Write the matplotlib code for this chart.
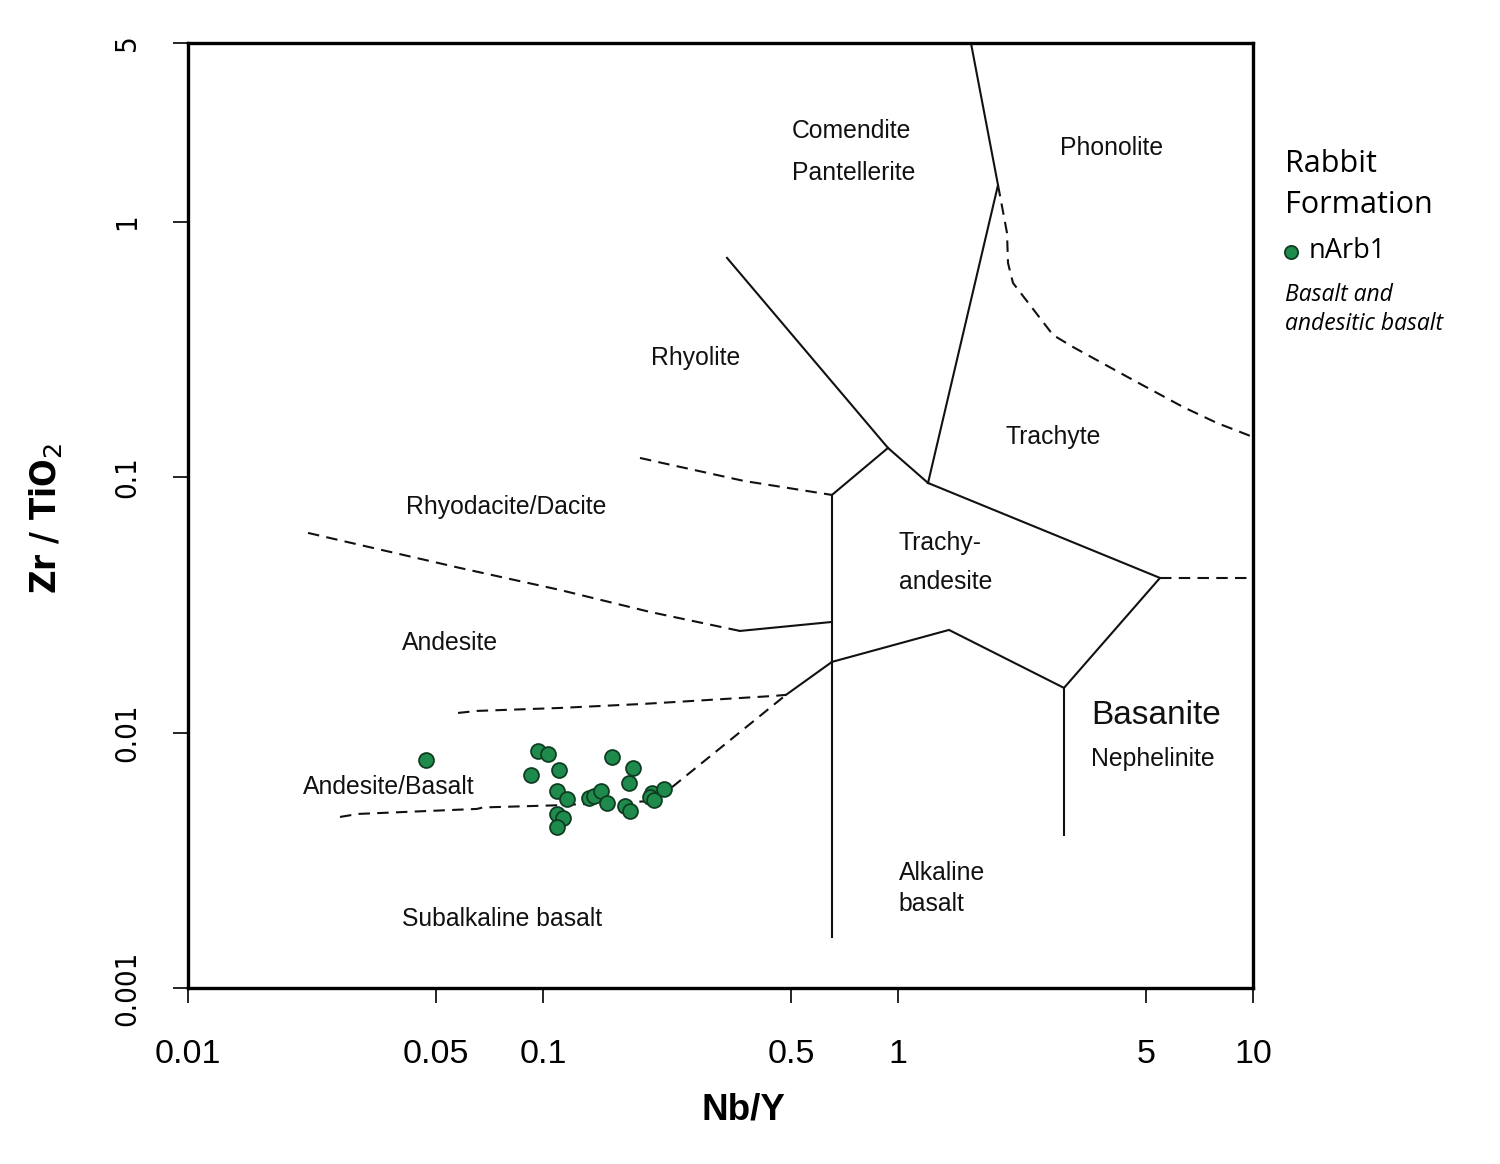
import matplotlib
matplotlib.use("Agg")
import matplotlib.pyplot as plt

plt.rcParams['font.family'] = ['Liberation Sans', 'DejaVu Sans']
plt.rcParams['mathtext.fontset'] = 'custom'
plt.rcParams['mathtext.rm'] = 'DejaVu Sans'
plt.rcParams['mathtext.bf'] = 'DejaVu Sans:bold'

# sample data, Nb/Y vs Zr/TiO2
nb_y = [0.0468, 0.0968, 0.1033, 0.0925, 0.1110, 0.1565, 0.1793, 0.1747,
        0.1095, 0.1169, 0.1348, 0.1392, 0.1457, 0.1515, 0.1702, 0.1758,
        0.2028, 0.2001, 0.2055, 0.2192, 0.1095, 0.1138, 0.1095]
zr_ti = [0.00781, 0.00847, 0.00825, 0.00682, 0.00714, 0.00802, 0.00727, 0.00635,
         0.00591, 0.00550, 0.00555, 0.00565, 0.00591, 0.00530, 0.00516, 0.00493,
         0.00580, 0.00560, 0.00545, 0.00601, 0.00480, 0.00463, 0.00427]

# field boundaries (Winchester & Floyd 1977)
solid_lines = [
    ([1.605, 1.913, 1.215], [5.0, 1.390, 0.0948]),
    ([0.3299, 0.9371, 1.215], [0.7206, 0.1300, 0.0948]),
    ([0.9371, 0.6516], [0.1300, 0.0851]),
    ([0.6516, 0.6516], [0.0851, 0.001585]),
    ([1.215, 5.470, 2.935, 2.935], [0.0948, 0.04028, 0.01495, 0.003974]),
    ([0.6516, 1.392, 2.935], [0.01890, 0.02521, 0.01495]),
    ([0.3588, 0.6516], [0.02498, 0.02709]),
    ([0.4836, 0.6516], [0.01404, 0.01890]),
]
dashed_lines = [
    ([1.913, 2.028, 2.041, 2.108, 2.733, 3.111, 4.592, 6.351, 7.917, 10.0],
     [1.390, 0.9024, 0.6886, 0.5751, 0.3598, 0.3229, 0.2399, 0.1881, 0.1628, 0.1435]),
    ([0.1876, 0.2163, 0.3684, 0.6516], [0.1188, 0.1136, 0.09654, 0.0851]),
    ([0.02178, 0.03051, 0.05839, 0.1117, 0.2001, 0.3588],
     [0.06044, 0.05423, 0.04406, 0.03614, 0.02965, 0.02498]),
    ([0.05763, 0.06518, 0.1117, 0.1913, 0.2385, 0.4445, 0.4836],
     [0.01193, 0.01215, 0.01248, 0.01294, 0.01318, 0.01390, 0.01404]),
    ([0.02680, 0.03013, 0.06518, 0.06776, 0.1067, 0.2068, 0.4836],
     [0.004672, 0.004801, 0.005023, 0.005091, 0.005184, 0.005398, 0.01404]),
    ([5.470, 10.0], [0.04028, 0.04028]),
]

field_names = ["Comendite", "Pantellerite", "Phonolite", "Rhyolite", "Trachyte",
               "Rhyodacite/Dacite", "Trachy-", "andesite", "Andesite", "Nephelinite",
               "Andesite/Basalt", "Alkaline", "basalt", "Subalkaline basalt"]
field_x = [0.5029, 0.5029, 2.860, 0.2014, 2.002, 0.04112, 1.006, 1.006, 0.04006,
           3.497, 0.02108, 1.006, 1.006, 0.04006]
field_y = [2.263, 1.550, 1.941, 0.2924, 0.1435, 0.07638, 0.05521, 0.03885, 0.02242,
           0.007882, 0.006125, 0.002821, 0.002134, 0.001865]

xticks = [0.01, 0.05, 0.1, 0.5, 1, 5, 10]
xtick_labels = ["0.01", "0.05", "0.1", "0.5", "1", "5", "10"]
yticks = [0.001, 0.01, 0.1, 1, 5]
ytick_labels = ["0.001", "0.01", "0.1", "1", "5"]

fig = plt.figure(figsize=(15, 11.64), dpi=100)
ax = fig.add_axes([188 / 1500, 1 - 988 / 1164, 1065 / 1500, 945 / 1164])
ax.set_xscale('log')
ax.set_yscale('log')
ax.set_xlim(0.01, 10)
ax.set_ylim(0.001, 5)

for xs, ys in solid_lines:
    ax.plot(xs, ys, color='#111111', lw=1.5, solid_joinstyle='miter')
for xs, ys in dashed_lines:
    ax.plot(xs, ys, color='#111111', lw=1.5, linestyle=(0, (5.5, 3.5)))

for name, x, y in zip(field_names, field_x, field_y):
    ax.text(x, y, name, fontsize=17.8, ha='left', va='center', color='#111111')
ax.text(3.497, 0.01161, "Basanite", fontsize=24, ha='left', va='center', color='#111111')

ax.scatter(nb_y, zr_ti, s=115, facecolor='#1e8b4c', edgecolor='#0e3d21',
           linewidth=1.3, zorder=5)

ax.set_xticks(xticks)
ax.set_xticklabels(xtick_labels)
ax.set_yticks(yticks)
ax.set_yticklabels(ytick_labels, rotation=90, va='center',
                   family='DejaVu Sans', stretch='condensed')
ax.minorticks_off()
ax.tick_params(axis='x', length=11, width=1.2, labelsize=24.5, pad=26)
ax.tick_params(axis='y', length=11, width=1.2, labelsize=21, pad=23)
for sp in ax.spines.values():
    sp.set_linewidth(2.4)

fig.text(743 / 1500, 1 - 1110 / 1164, "Nb/Y", fontsize=26.5, fontweight='bold',
         ha='center', va='center')
fig.text(45 / 1500, 1 - 519 / 1164, r"Zr / TiO$_\mathrm{2}$", fontsize=26, fontweight='bold',
         rotation=90, ha='center', va='center',
         family='DejaVu Sans', stretch='condensed')

# legend, drawn by hand
leg_font = ['Open Sans', 'DejaVu Sans']
fig.text(1285 / 1500, 1 - 164 / 1164, "Rabbit", fontsize=22, family=leg_font, va='center')
fig.text(1285 / 1500, 1 - 205 / 1164, "Formation", fontsize=22, family=leg_font, va='center')
ax.plot([1291 / 1500], [1 - 252 / 1164], 'o', ms=9.5, mfc='#1e8b4c', mec='#0e3d21',
        mew=1.3, transform=fig.transFigure, clip_on=False)
fig.text(1309 / 1500, 1 - 251 / 1164, "nArb1", fontsize=19.5, family=leg_font, va='center')
fig.text(1285 / 1500, 1 - 295 / 1164, "Basalt and", fontsize=16.5, family=leg_font,
         style='italic', va='center')
fig.text(1285 / 1500, 1 - 324 / 1164, "andesitic basalt", fontsize=16.5, family=leg_font,
         style='italic', va='center')

fig.savefig("out.png", dpi=100)
